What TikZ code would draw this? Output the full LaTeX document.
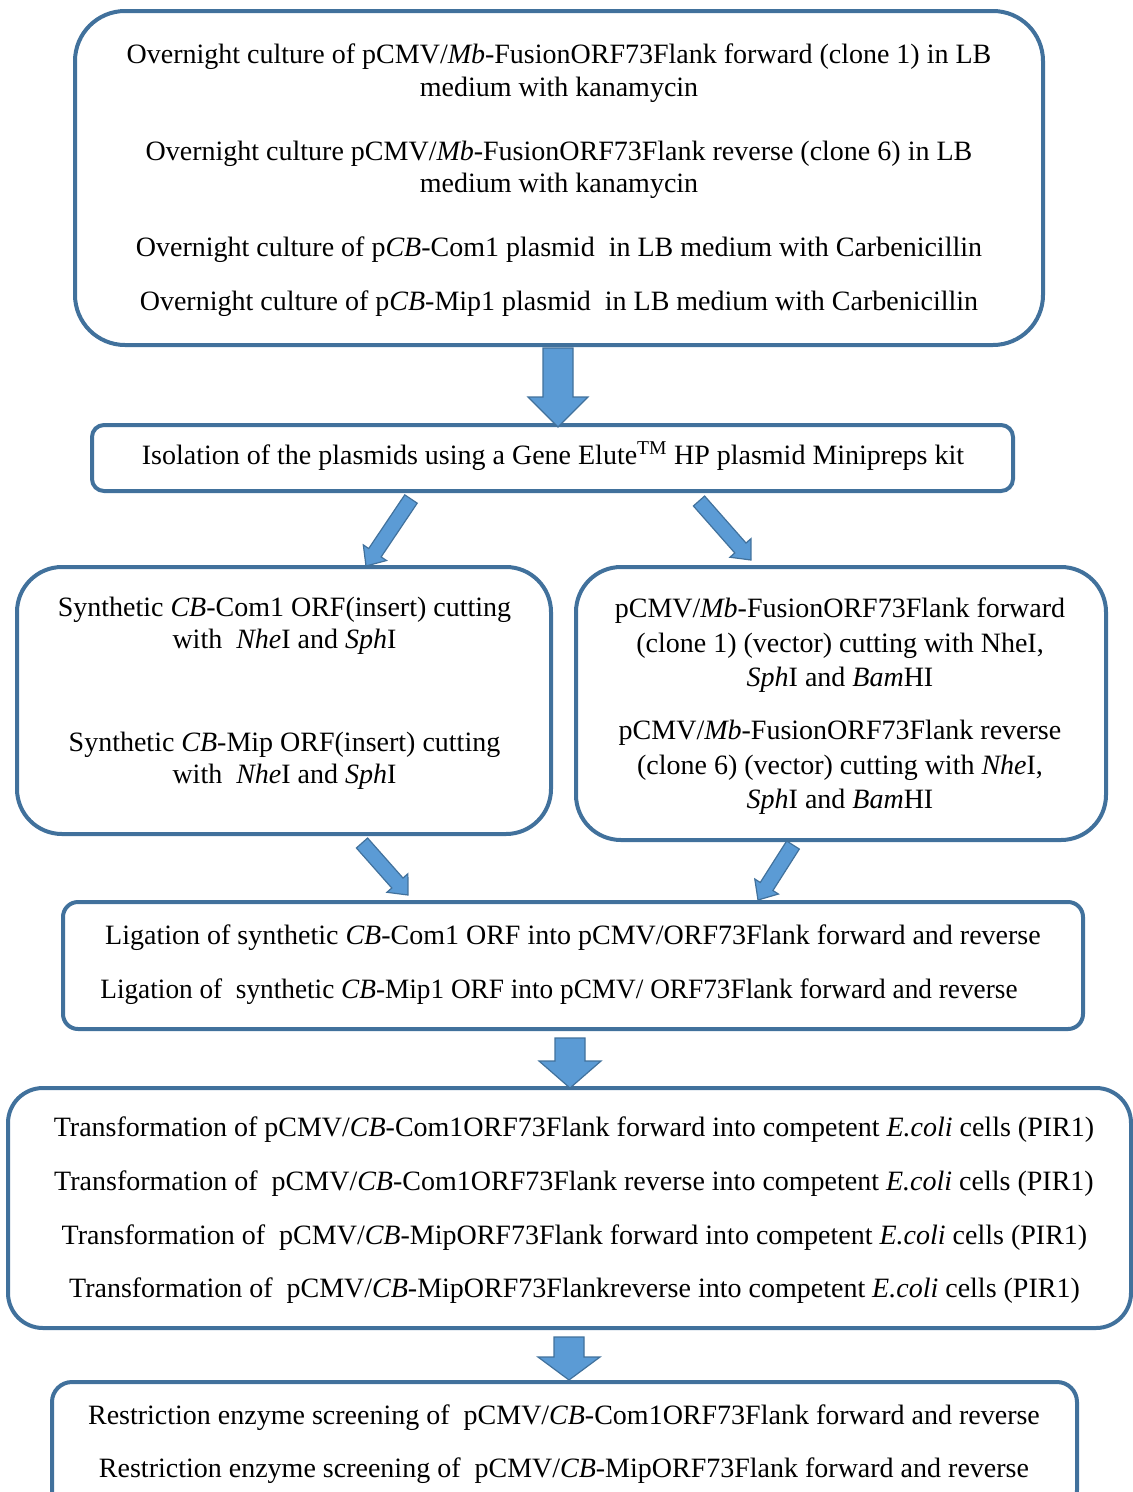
\documentclass[tikz,border=0pt]{standalone}
\usepackage{fontspec}
\setmainfont{Liberation Serif}
\usetikzlibrary{calc}
\definecolor{boxblue}{HTML}{41719C}
\definecolor{arrfill}{HTML}{5B9BD5}
\tikzset{
  box/.style={draw=boxblue, line width=4pt, rectangle, inner sep=0pt},
  txt/.style={anchor=base, inner sep=0pt, text=black, font=\fontsize{28}{33}\selectfont},
  barrow/.style={fill=arrfill, draw=boxblue, line width=1.2pt, line join=miter},
}
% tail, tip, shaft half width, head half width, head length
\newcommand\blockarrow[5]{%
  \draw[barrow] let \p1=(#1), \p2=(#2),
      \n1={atan2(\y2-\y1,\x2-\x1)}, \n2={veclen(\x2-\x1,\y2-\y1)} in
    ($(\p1)+({\n1+90}:#3)$) -- ($(\p1)+({\n1+90}:#3)+(\n1:{\n2-#5})$)
    -- ($(\p1)+({\n1+90}:#4)+(\n1:{\n2-#5})$) -- (\p2)
    -- ($(\p1)+({\n1-90}:#4)+(\n1:{\n2-#5})$) -- ($(\p1)+({\n1-90}:#3)+(\n1:{\n2-#5})$)
    -- ($(\p1)+({\n1-90}:#3)$) -- cycle;}
\begin{document}
\begin{tikzpicture}[x=1pt,y=1pt]
\useasboundingbox (0,0) rectangle (1133,-1492);

% boxes
\node[box, rounded corners=50pt, minimum width=968pt, minimum height=334pt] (top) at (559,-178) {};
\node[box, rounded corners=12pt, minimum width=921pt, minimum height=66pt] (iso) at (552.5,-458) {};
\node[box, rounded corners=45pt, minimum width=534pt, minimum height=267pt] (left) at (284,-700.5) {};
\node[box, rounded corners=45pt, minimum width=530pt, minimum height=273pt] (right) at (841,-703.5) {};
\node[box, rounded corners=15pt, minimum width=1020pt, minimum height=127pt] (lig) at (573,-965.5) {};
\node[box, rounded corners=35pt, minimum width=1123pt, minimum height=240pt] (trans) at (569.5,-1208) {};
\node[box, rounded corners=20pt, minimum width=1025pt, minimum height=128pt] (screen) at (564.5,-1446) {};

% texts: top box
\node[txt] (t1) at (559,-63) {Overnight culture of pCMV/\textit{Mb}-FusionORF73Flank forward (clone 1) in LB};
\node[txt] (t2) at (559,-96) {medium with kanamycin};
\node[txt] (t3) at (559,-160) {Overnight culture pCMV/\textit{Mb}-FusionORF73Flank reverse (clone 6) in LB};
\node[txt] (t4) at (559,-192) {medium with kanamycin};
\node[txt] (t5) at (559,-256) {Overnight culture of p\textit{CB}-Com1 plasmid~ in LB medium with Carbenicillin};
\node[txt] (t6) at (559,-310) {Overnight culture of p\textit{CB}-Mip1 plasmid~ in LB medium with Carbenicillin};
% isolation
\node[txt] (i1) at (553,-464) {Isolation of the plasmids using a Gene Elute\textsuperscript{TM} HP plasmid Minipreps kit};
% left box
\node[txt] (l1) at (284.5,-616) {Synthetic \textit{CB}-Com1 ORF(insert) cutting};
\node[txt] (l2) at (284.5,-648) {with~ \textit{Nhe}I and \textit{Sph}I};
\node[txt] (l3) at (284.5,-751) {Synthetic \textit{CB}-Mip ORF(insert) cutting};
\node[txt] (l4) at (284.5,-783) {with~ \textit{Nhe}I and \textit{Sph}I};
% right box
\node[txt] (r1) at (840,-617) {pCMV/\textit{Mb}-FusionORF73Flank forward};
\node[txt] (r2) at (840,-652) {(clone 1) (vector) cutting with NheI,};
\node[txt] (r3) at (840,-686) {\textit{Sph}I and \textit{Bam}HI};
\node[txt] (r4) at (840,-739) {pCMV/\textit{Mb}-FusionORF73Flank reverse};
\node[txt] (r5) at (840,-774) {(clone 6) (vector) cutting with \textit{Nhe}I,};
\node[txt] (r6) at (840,-808) {\textit{Sph}I and \textit{Bam}HI};
% ligation
\node[txt] (g1) at (573,-944) {Ligation of synthetic \textit{CB}-Com1 ORF into pCMV/ORF73Flank forward and reverse};
\node[txt] (g2) at (559,-998) {\scalebox{0.974}[1]{Ligation of~ synthetic \textit{CB}-Mip1 ORF into pCMV/ ORF73Flank forward and reverse}};
% transformation
\node[txt] (f1) at (574,-1136) {Transformation of pCMV/\textit{CB}-Com1ORF73Flank forward into competent \textit{E.coli} cells (PIR1)};
\node[txt] (f2) at (574,-1190) {Transformation of~ pCMV/\textit{CB}-Com1ORF73Flank reverse into competent \textit{E.coli} cells (PIR1)};
\node[txt] (f3) at (574.5,-1244) {Transformation of~ pCMV/\textit{CB}-MipORF73Flank forward into competent \textit{E.coli} cells (PIR1)};
\node[txt] (f4) at (574.5,-1297) {Transformation of~ pCMV/\textit{CB}-MipORF73Flankreverse into competent \textit{E.coli} cells (PIR1)};
% screening
\node[txt] (s1) at (564,-1424) {Restriction enzyme screening of~ pCMV/\textit{CB}-Com1ORF73Flank forward and reverse};
\node[txt] (s2) at (564,-1477) {Restriction enzyme screening of~ pCMV/\textit{CB}-MipORF73Flank forward and reverse};

% arrow end points
\coordinate (a1t) at (558,-348);  \coordinate (a1h) at (558,-427);
\coordinate (a2t) at (411,-499);  \coordinate (a2h) at (366,-566);
\coordinate (a3t) at (699,-501);  \coordinate (a3h) at (751,-560);
\coordinate (a4t) at (362,-843);  \coordinate (a4h) at (408,-895);
\coordinate (a5t) at (793,-845);  \coordinate (a5h) at (758,-900);
\coordinate (a6t) at (570,-1038); \coordinate (a6h) at (570,-1088);
\coordinate (a7t) at (569,-1337); \coordinate (a7h) at (569,-1380);

\blockarrow{a1t}{a1h}{15pt}{30pt}{30pt}
\blockarrow{a2t}{a2h}{7.5pt}{14pt}{16pt}
\blockarrow{a3t}{a3h}{7.5pt}{14pt}{16pt}
\blockarrow{a4t}{a4h}{7.5pt}{14pt}{16pt}
\blockarrow{a5t}{a5h}{7.5pt}{14pt}{16pt}
\blockarrow{a6t}{a6h}{15pt}{31pt}{27pt}
\blockarrow{a7t}{a7h}{15pt}{31pt}{23pt}
\end{tikzpicture}
\end{document}
